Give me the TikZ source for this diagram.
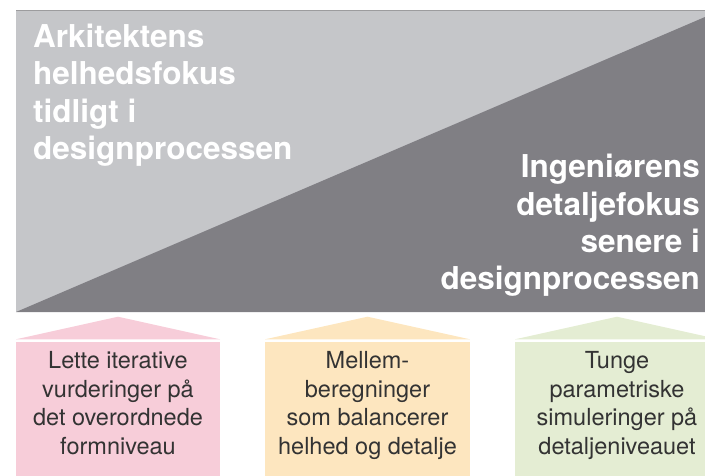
\documentclass[tikz,border=0pt]{standalone}
\usepackage{fontspec}
\setmainfont{TeX Gyre Heros}
\definecolor{lightgrey}{HTML}{C5C6C9}
\definecolor{darkgrey}{HTML}{807F84}
\definecolor{topline}{HTML}{9C9C9E}
\definecolor{pinkbox}{HTML}{F7CDD9}
\definecolor{yellowbox}{HTML}{FDE6BF}
\definecolor{greenbox}{HTML}{E4EDD3}
\definecolor{boxtext}{HTML}{333333}
\tikzset{
  headtext/.style={inner sep=0pt, text=white, font=\fontsize{31.5}{37.4}\selectfont\bfseries},
  boxlabel/.style={inner sep=0pt, text=boxtext, align=center, anchor=base, font=\fontsize{23.5}{28.4}\selectfont},
}
\begin{document}
\begin{tikzpicture}[x=1pt,y=-1pt]
\useasboundingbox (0,0) rectangle (705,476);
\clip (0,0) rectangle (705,476);
% top panel
\fill[lightgrey] (16,10) rectangle (705,312);
\fill[darkgrey] (16,312) -- (705,17) -- (705,312) -- cycle;
\draw[topline, line width=1.2pt] (16,10.3) -- (705,10.3);
\node[headtext, anchor=base west, align=left] (arch) at (33,159.5)
  {Arkitektens\\helhedsfokus\\tidligt i\\designprocessen};
\node[headtext, anchor=base east, align=right] (eng) at (700,290)
  {Ingeniørens\\detaljefokus\\senere i\\designprocessen};
% boxes
\fill[pinkbox] (16,339.3) -- (118,316.7) -- (220,339.3) -- cycle;
\fill[pinkbox] (16,341.5) rectangle (220,476);
\fill[yellowbox] (265,339.3) -- (367.5,316.7) -- (470,339.3) -- cycle;
\fill[yellowbox] (265,341.5) rectangle (470,476);
\fill[greenbox] (515,339.3) -- (617,316.7) -- (719,339.3) -- cycle;
\fill[greenbox] (515,341.5) rectangle (719,476);
\node[boxlabel] (light) at (118,454) {Lette iterative\\vurderinger på\\det overordnede\\formniveau};
\node[boxlabel] (mid) at (367.5,454) {Mellem-\\beregninger\\som balancerer\\helhed og detalje};
\node[boxlabel] (heavy) at (617,454) {Tunge\\parametriske\\simuleringer på\\detaljeniveauet};
\end{tikzpicture}
\end{document}
